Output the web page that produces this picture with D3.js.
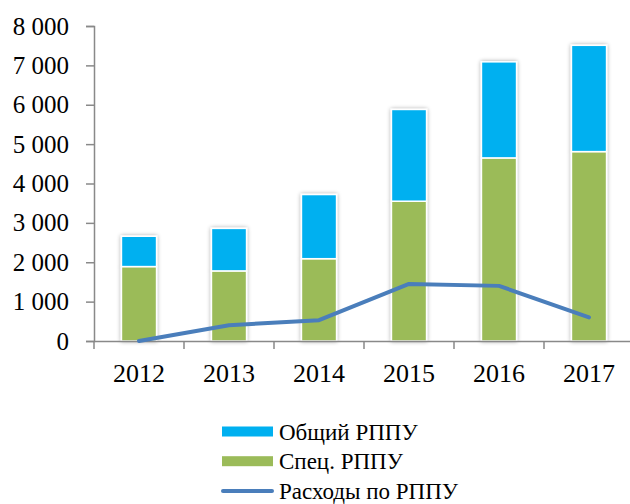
<!DOCTYPE html>
<html lang="ru">
    <head>
        <meta charset="utf-8">
        <title>РППУ</title>
        <script type="text/javascript" src="https://cdn.jsdelivr.net/npm/d3@7"></script>
        <style>
            body { margin: 0; background: #fff; }
            svg { display: block; }
        </style>
    </head>
    <body>
        <script type="text/javascript">
            // data
            var years = ['2012', '2013', '2014', '2015', '2016', '2017'];
            var spec = [1890, 1780, 2090, 3550, 4650, 4810];      // Спец. РППУ
            var common = [770, 1080, 1630, 2330, 2440, 2700];     // Общий РППУ
            var expenses = [0, 400, 530, 1450, 1400, 600];        // Расходы по РППУ
            var yTicks = [0, 1000, 2000, 3000, 4000, 5000, 6000, 7000, 8000];

            var w = 630;
            var h = 504;
            // plot area (right edge runs past the window, as in the original)
            var pLeft = 94, pRight = 634, pTop = 26, pBottom = 341;

            var blue = '#00b0f0', green = '#9bbb59', lineColor = '#4a7ebb', axisColor = '#898989';
            var font = '"Liberation Serif", "Times New Roman", serif';

            var locale = d3.formatLocale({decimal: ',', thousands: '\u00a0', grouping: [3], currency: ['', '']});
            var fmt = locale.format(',d');

            var svg = d3.select('body')
                        .append('svg')
                        .attr('width', w)
                        .attr('height', h);

            var defs = svg.append('defs');
            var filter = defs.append('filter')
                .attr('id', 'shadow')
                .attr('x', '-30%').attr('y', '-10%')
                .attr('width', '160%').attr('height', '120%');
            filter.append('feGaussianBlur')
                .attr('in', 'SourceAlpha')
                .attr('stdDeviation', 2.2)
                .attr('result', 'blur');
            filter.append('feComponentTransfer')
                .attr('in', 'blur')
                .attr('result', 'soft')
                .append('feFuncA').attr('type', 'linear').attr('slope', 0.35);
            var merge = filter.append('feMerge');
            merge.append('feMergeNode').attr('in', 'soft');
            merge.append('feMergeNode').attr('in', 'SourceGraphic');

            var x = d3.scaleBand()
                .domain(years)
                .range([pLeft, pRight])
                .paddingInner(0.61)
                .paddingOuter(0.305);

            var y = d3.scaleLinear()
                .domain([0, 8000])
                .range([pBottom, pTop]);

            // stacked bars
            var rows = years.map(function(d, i){
                return {year: d, spec: spec[i], common: common[i]};
            });
            var stack = d3.stack().keys(['spec', 'common'])(rows);
            var colors = {spec: green, common: blue};

            var bars = svg.append('g').attr('filter', 'url(#shadow)');
            bars.selectAll('g')
                .data(stack)
                .enter()
                .append('g')
                .attr('fill', function(d){ return colors[d.key]; })
                .selectAll('rect')
                .data(function(d){ return d; })
                .enter()
                .append('rect')
                .attr('x', function(d){ return x(d.data.year); })
                .attr('y', function(d){ return y(d[1]); })
                .attr('width', x.bandwidth())
                .attr('height', function(d){ return y(d[0]) - y(d[1]); })
                .attr('stroke', '#fff')
                .attr('stroke-width', 1.5);

            // y axis
            var yAxis = svg.append('g')
                .attr('transform', 'translate(' + pLeft + ',0)')
                .call(d3.axisLeft(y).tickValues(yTicks).tickFormat(fmt).tickSize(8).tickPadding(17));
            yAxis.select('.domain').attr('stroke', axisColor).attr('stroke-width', 1.5);
            yAxis.selectAll('.tick line').attr('stroke', axisColor).attr('stroke-width', 1.5);
            yAxis.selectAll('text')
                .attr('fill', '#000')
                .attr('font-family', font)
                .attr('font-size', '25px');

            // x axis, ticks between categories
            var xAxis = svg.append('g')
                .attr('transform', 'translate(0,' + pBottom + ')')
                .call(d3.axisBottom(x).tickSize(0).tickPadding(23));
            xAxis.select('.domain').attr('stroke', axisColor).attr('stroke-width', 1.5);
            xAxis.selectAll('text')
                .attr('fill', '#000')
                .attr('font-family', font)
                .attr('font-size', '26px');
            xAxis.selectAll('.sep')
                .data(d3.range(years.length + 1))
                .enter()
                .append('line')
                .attr('class', 'sep')
                .attr('x1', function(i){ return pLeft + i * x.step(); })
                .attr('x2', function(i){ return pLeft + i * x.step(); })
                .attr('y1', 0)
                .attr('y2', 8)
                .attr('stroke', axisColor)
                .attr('stroke-width', 1.5);

            // expenses line
            var line = d3.line()
                .x(function(d, i){ return x(years[i]) + x.bandwidth() / 2; })
                .y(function(d){ return y(d); });
            svg.append('path')
                .datum(expenses)
                .attr('d', line)
                .attr('fill', 'none')
                .attr('stroke', lineColor)
                .attr('stroke-width', 4)
                .attr('stroke-linejoin', 'round')
                .attr('stroke-linecap', 'round');

            // legend
            var legend = [
                {name: 'Общий РППУ', color: blue, type: 'rect'},
                {name: 'Спец. РППУ', color: green, type: 'rect'},
                {name: 'Расходы по РППУ', color: lineColor, type: 'line'}
            ];
            var lg = svg.selectAll('.legend')
                .data(legend)
                .enter()
                .append('g')
                .attr('class', 'legend')
                .attr('transform', function(d, i){ return 'translate(222,' + (431.5 + i * 29.7) + ')'; });
            lg.filter(function(d){ return d.type === 'rect'; })
                .append('rect')
                .attr('x', 0).attr('y', -5)
                .attr('width', 51).attr('height', 10)
                .attr('fill', function(d){ return d.color; });
            lg.filter(function(d){ return d.type === 'line'; })
                .append('line')
                .attr('x1', 1).attr('x2', 50)
                .attr('y1', 0).attr('y2', 0)
                .attr('stroke', function(d){ return d.color; })
                .attr('stroke-width', 4)
                .attr('stroke-linecap', 'round');
            lg.append('text')
                .attr('x', 57)
                .attr('y', 8)
                .text(function(d){ return d.name; })
                .attr('fill', '#000')
                .attr('font-family', font)
                .attr('font-size', '23px');
        </script>
    </body>
</html>
